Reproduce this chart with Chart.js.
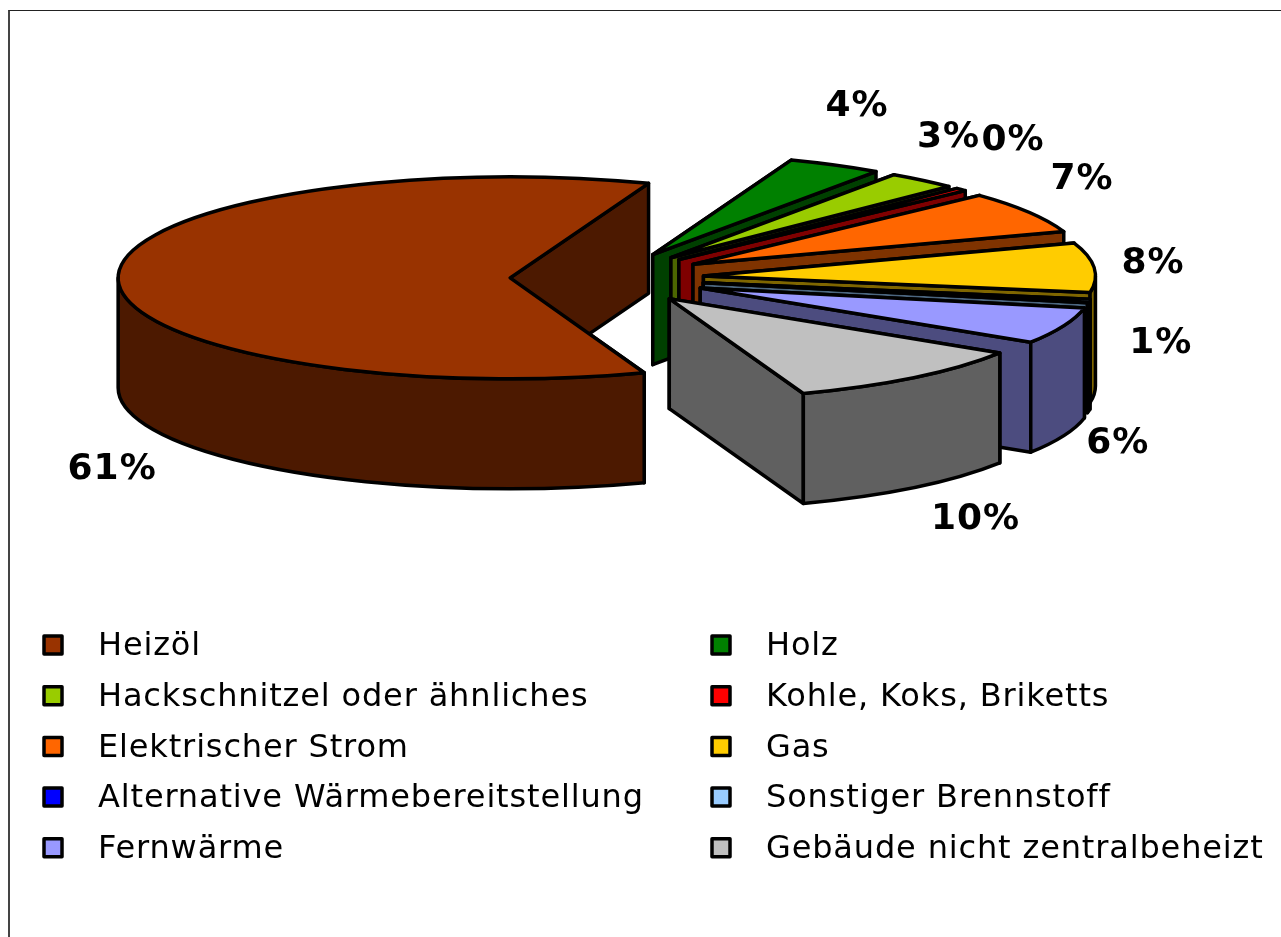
<!DOCTYPE html>
<html>
<head>
<meta charset="utf-8">
<script src="https://cdn.jsdelivr.net/npm/chart.js@4"></script>
<style>
  html, body { margin: 0; background: #fff; }
  #wrap { position: relative; width: 1281px; height: 937px; overflow: hidden; }
  #frame { position: absolute; left: 8px; top: 10px; right: -4px; bottom: -4px; border-left: 2px solid #444; border-top: 1px solid #222; }
  #pie { position: absolute; left: 0; top: 0; }
</style>
</head>
<body>
<div id="wrap">
  <div id="frame"></div>
  <canvas id="pie" width="1281" height="937"></canvas>
</div>
<script>
const categories = ["Heizöl", "Holz", "Hackschnitzel oder ähnliches", "Kohle, Koks, Briketts", "Elektrischer Strom", "Gas", "Alternative Wärmebereitstellung", "Sonstiger Brennstoff", "Fernwärme", "Gebäude nicht zentralbeheizt"];
const shares = [61.3, 3.9, 2.9, 0.49, 6.7, 7.9, 0, 0.55, 5.85, 10.41];
const colors = ["#993300", "#008000", "#99CC00", "#FF0000", "#FF6600", "#FFCC00", "#0000FF", "#99CCFF", "#9999FF", "#C0C0C0"];

// how far each slice is pulled out of the pie, and where its label sits from the rim
const explode = [0.242, 0.262, 0.262, 0.262, 0.262, 0.252, 0.262, 0.255, 0.262, 0.262];
const labelShift = [[-6, 192], [22, -59], [26, -43], [52, -49], [53, -33], [59, -4], [0, 0], [72, 43], [54, 118], [61, 142]];

// flattened 3d look
const pieX = 605, pieY = 278, radiusX = 392, radiusY = 101, depth = 110;

function halfTone(hex) {
  const n = parseInt(hex.slice(1), 16);
  const part = s => (((n >> s) & 255) >> 1).toString(16).padStart(2, "0");
  return "#" + part(16) + part(8) + part(0);
}

function sliceCenter(arc, i) {
  const mid = (arc.startAngle + arc.endAngle) / 2;
  return {
    x: pieX + explode[i] * radiusX * Math.cos(mid),
    y: pieY + explode[i] * radiusY * Math.sin(mid),
    mid: mid
  };
}

function rimPoint(c, angle) {
  return { x: c.x + radiusX * Math.cos(angle), y: c.y + radiusY * Math.sin(angle) };
}

function outline(ctx) {
  ctx.strokeStyle = "#000";
  ctx.lineWidth = 3.5;
  ctx.lineJoin = "round";
  ctx.stroke();
}

function drawCutFace(ctx, c, angle, color) {
  const p = rimPoint(c, angle);
  ctx.beginPath();
  ctx.moveTo(c.x, c.y);
  ctx.lineTo(p.x, p.y);
  ctx.lineTo(p.x, p.y + depth);
  ctx.lineTo(c.x, c.y + depth);
  ctx.closePath();
  ctx.fillStyle = color;
  ctx.fill();
  outline(ctx);
}

// the rim wall is only seen on the front half of the ellipse
function drawRimWall(ctx, c, start, end, color) {
  const ranges = [[0, Math.PI], [2 * Math.PI, 3 * Math.PI]];
  ranges.forEach(r => {
    const a = Math.max(start, r[0]);
    const b = Math.min(end, r[1]);
    if (b <= a) return;
    ctx.beginPath();
    ctx.ellipse(c.x, c.y, radiusX, radiusY, 0, a, b);
    ctx.ellipse(c.x, c.y + depth, radiusX, radiusY, 0, b, a, true);
    ctx.closePath();
    ctx.fillStyle = color;
    ctx.fill();
    outline(ctx);
  });
}

const pie3d = {
  id: "pie3d",
  beforeDatasetsDraw(chart) {
    const ctx = chart.ctx;
    const arcs = chart.getDatasetMeta(0).data;
    const order = arcs.map((a, i) => i).filter(i => shares[i] > 0);
    order.sort((p, q) => Math.sin(sliceCenter(arcs[p], p).mid) - Math.sin(sliceCenter(arcs[q], q).mid));

    order.forEach(i => {
      const arc = arcs[i];
      const c = sliceCenter(arc, i);
      const wall = halfTone(colors[i]);
      drawCutFace(ctx, c, arc.startAngle, wall);
      drawCutFace(ctx, c, arc.endAngle, wall);
      drawRimWall(ctx, c, arc.startAngle, arc.endAngle, wall);
    });

    order.forEach(i => {
      const arc = arcs[i];
      const c = sliceCenter(arc, i);
      ctx.save();
      ctx.translate(c.x, c.y);
      ctx.scale(radiusX / arc.outerRadius, radiusY / arc.outerRadius);
      ctx.translate(-arc.x, -arc.y);
      arc.draw(ctx);
      ctx.restore();

      ctx.beginPath();
      ctx.moveTo(c.x, c.y);
      ctx.ellipse(c.x, c.y, radiusX, radiusY, 0, arc.startAngle, arc.endAngle);
      ctx.closePath();
      outline(ctx);
    });
    return false;
  },
  afterDraw(chart) {
    const ctx = chart.ctx;
    const arcs = chart.getDatasetMeta(0).data;

    // percent labels
    ctx.fillStyle = "#000";
    ctx.font = "bold 36px 'DejaVu Sans'";
    ctx.letterSpacing = "1px";
    ctx.textAlign = "center";
    ctx.textBaseline = "middle";
    arcs.forEach((arc, i) => {
      if (shares[i] <= 0) return;
      const c = sliceCenter(arc, i);
      const p = rimPoint(c, c.mid);
      ctx.fillText(Math.round(shares[i]) + "%", p.x + labelShift[i][0], p.y + labelShift[i][1]);
    });

    // legend, two columns
    ctx.font = "32px 'DejaVu Sans'";
    ctx.letterSpacing = "0.85px";
    ctx.textAlign = "left";
    categories.forEach((name, i) => {
      const col = i % 2;
      const row = Math.floor(i / 2);
      const boxX = col ? 712 : 44;
      const textX = col ? 766 : 98;
      const y = 645 + row * 50.7;
      ctx.fillStyle = colors[i];
      ctx.fillRect(boxX, y - 9, 18, 18);
      ctx.lineWidth = 3.5;
      ctx.strokeStyle = "#000";
      ctx.strokeRect(boxX, y - 9, 18, 18);
      ctx.fillStyle = "#000";
      ctx.fillText(name, textX, y + 2);
    });
  }
};

new Chart(document.getElementById("pie"), {
  type: "pie",
  data: {
    labels: categories,
    datasets: [{
      data: shares,
      backgroundColor: colors,
      borderWidth: 0
    }]
  },
  options: {
    responsive: false,
    animation: false,
    rotation: 160,
    plugins: { legend: { display: false }, tooltip: { enabled: false } }
  },
  plugins: [pie3d]
});
</script>
</body>
</html>
